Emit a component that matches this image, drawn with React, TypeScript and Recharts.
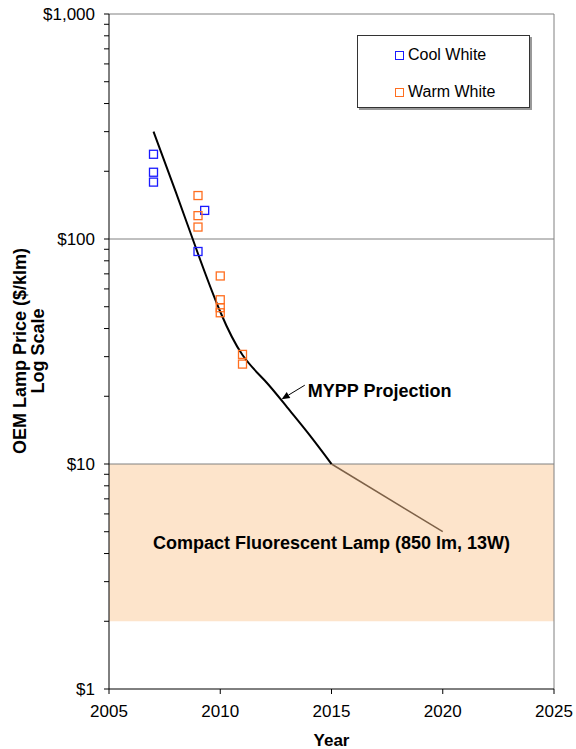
import React from 'react';
import {
  ComposedChart, Line, Scatter, XAxis, YAxis, ReferenceArea, ReferenceLine,
} from 'recharts';

// values
const coolYears = [2007, 2007, 2007, 2009.3, 2009];
const coolPrices = [238, 198, 179, 134, 88];

const warmYears = [2009, 2009, 2009, 2010, 2010, 2010, 2010, 2011, 2011];
const warmPrices = [156, 127, 113, 68.5, 53.7, 49.5, 47, 30.7, 27.8];

const myppYears = [2007, 2008, 2009, 2010, 2011, 2012, 2013, 2014, 2015];
const myppPrices = [300, 162, 86, 47.5, 30.5, 23.5, 17.9, 13.5, 10];

const cflYears = [2015, 2020];
const cflPrices = [10, 5];

const cflBandLow = 2;
const cflBandHigh = 10;

const xTicks = [2005, 2010, 2015, 2020, 2025];
const majorPrices = [1, 10, 100, 1000];
const priceTicks = [1, 2, 3, 4, 5, 6, 7, 8, 9, 10, 20, 30, 40, 50, 60, 70, 80, 90, 100, 200, 300, 400, 500, 600, 700, 800, 900, 1000];

const arrowTail = { x: 2013.8, y: 22.4 };
const arrowHead = { x: 2012.76, y: 19.4 };

const toRows = (xs: number[], ys: number[]) => xs.map((x, i) => ({ year: x, price: ys[i] }));

const coolData = toRows(coolYears, coolPrices);
const warmData = toRows(warmYears, warmPrices);
const myppData = toRows(myppYears, myppPrices);
const cflData = toRows(cflYears, cflPrices);

const FONT = '"Liberation Sans", Arial, sans-serif';
const COOL = '#1a1aff';
const WARM = '#ff6e1f';

const fmtPrice = (v: number) => (majorPrices.includes(v) ? '$' + v.toLocaleString('en-US') : '');

const squareShape = (color: string) => (props: any) => {
  const { cx, cy } = props;
  return <rect x={cx - 4} y={cy - 4} width={8} height={8} fill="none" stroke={color} strokeWidth={1.3} />;
};

function MyppArrow(props: any) {
  const { x1, y1, x2, y2 } = props;
  const ang = Math.atan2(y2 - y1, x2 - x1);
  const len = 8;
  const w = 3.5;
  const bx = x2 - len * Math.cos(ang);
  const by = y2 - len * Math.sin(ang);
  const px = -Math.sin(ang) * w;
  const py = Math.cos(ang) * w;
  return (
    <g>
      <line x1={x1} y1={y1} x2={bx} y2={by} stroke="#000" strokeWidth={1} />
      <polygon points={`${x2},${y2} ${bx + px},${by + py} ${bx - px},${by - py}`} fill="#000" />
      <text x={x1 + 3} y={y1 + 6} dominantBaseline="central" fontFamily={FONT} fontWeight="bold" fontSize={18} fill="#000">
        MYPP Projection
      </text>
    </g>
  );
}

function YTitle() {
  const cy = 351;
  return (
    <g fontFamily={FONT} fontWeight="bold" fontSize={18} fill="#000">
      <text x={20} y={cy} textAnchor="middle" dominantBaseline="central" transform={`rotate(-90 20 ${cy})`}>
        OEM Lamp Price ($/klm)
      </text>
      <text x={38} y={cy} textAnchor="middle" dominantBaseline="central" transform={`rotate(-90 38 ${cy})`}>
        Log Scale
      </text>
    </g>
  );
}

function LegendBox() {
  const item = (top: number, color: string, name: string) => (
    <div style={{ position: 'absolute', left: 37, top, height: 18, display: 'flex', alignItems: 'center' }}>
      <span style={{ width: 7, height: 7, border: `1px solid ${color}`, marginRight: 4, flex: 'none' }} />
      <span style={{ fontFamily: FONT, fontSize: 16, color: '#000', whiteSpace: 'nowrap' }}>{name}</span>
    </div>
  );
  return (
    <div style={{ position: 'absolute', left: 357, top: 35, width: 171, height: 71, border: '1px solid #333', background: '#fff', boxShadow: '2px 2px 0 #999' }}>
      {item(10, COOL, 'Cool White')}
      {item(47, WARM, 'Warm White')}
    </div>
  );
}

export default function App() {
  return (
    <div style={{ position: 'absolute', left: 0, top: 0, width: 576, height: 749, background: '#fff' }}>
      <ComposedChart width={576} height={749} margin={{ top: 14, right: 22, left: 0, bottom: 0 }}>
        <XAxis
          type="number"
          dataKey="year"
          domain={[2005, 2025]}
          ticks={xTicks}
          allowDataOverflow
          height={60}
          axisLine={{ stroke: '#000' }}
          tickLine={{ stroke: '#000' }}
          tickSize={5}
          tickMargin={11}
          tick={{ fill: '#000', fontFamily: FONT, fontSize: 17 }}
          label={{ value: 'Year', position: 'insideBottom', offset: 3, fill: '#000', fontFamily: FONT, fontWeight: 'bold', fontSize: 17 }}
        />
        <YAxis
          type="number"
          dataKey="price"
          scale="log"
          domain={[1, 1000]}
          ticks={priceTicks}
          interval={0}
          allowDataOverflow
          width={109}
          axisLine={{ stroke: '#000' }}
          tickLine={{ stroke: '#000' }}
          tickSize={5}
          tickMargin={9}
          tickFormatter={fmtPrice}
          tick={{ fill: '#000', fontFamily: FONT, fontSize: 17 }}
          label={{ content: YTitle }}
        />
        <ReferenceArea
          y1={cflBandLow}
          y2={cflBandHigh}
          fill="#fde4cb"
          fillOpacity={1}
          stroke="none"
          label={{ value: 'Compact Fluorescent Lamp (850 lm, 13W)', position: 'center', fill: '#000', fontFamily: FONT, fontWeight: 'bold', fontSize: 18 }}
        />
        <ReferenceLine y={10} stroke="#808080" strokeWidth={1} />
        <ReferenceLine y={100} stroke="#808080" strokeWidth={1} />
        <ReferenceLine y={1000} stroke="#808080" strokeWidth={1} />
        <ReferenceLine x={2025} stroke="#808080" strokeWidth={1} />
        <Line
          data={cflData}
          dataKey="price"
          type="linear"
          stroke="#7d6148"
          strokeWidth={1.5}
          dot={false}
          isAnimationActive={false}
        />
        <Line
          data={myppData}
          dataKey="price"
          type="natural"
          stroke="#000"
          strokeWidth={2}
          dot={false}
          isAnimationActive={false}
        />
        <Scatter name="Cool White" data={coolData} dataKey="price" fill={COOL} shape={squareShape(COOL)} isAnimationActive={false} />
        <Scatter name="Warm White" data={warmData} dataKey="price" fill={WARM} shape={squareShape(WARM)} isAnimationActive={false} />
        <ReferenceLine segment={[arrowTail, arrowHead]} shape={MyppArrow} />
      </ComposedChart>
      <LegendBox />
    </div>
  );
}
